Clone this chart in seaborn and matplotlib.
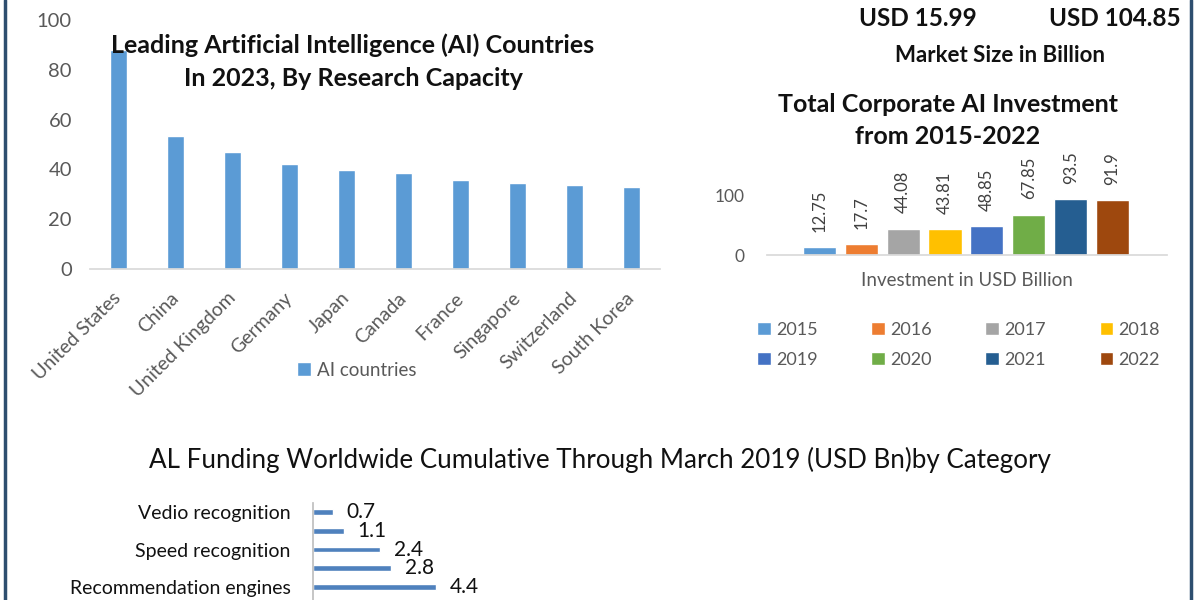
import matplotlib
matplotlib.use("Agg")
import matplotlib.pyplot as plt
from matplotlib.lines import Line2D
import seaborn as sns

# ---- data ----
countries = ["United States", "China", "United Kingdom", "Germany", "Japan",
             "Canada", "France", "Singapore", "Switzerland", "South Korea"]
capacity = [88, 53.5, 47, 42, 39.7, 38.5, 35.8, 34.6, 33.6, 33]

years = ["2015", "2016", "2017", "2018", "2019", "2020", "2021", "2022"]
investment = [12.75, 17.7, 44.08, 43.81, 48.85, 67.85, 93.5, 91.9]
year_colors = ["#5B9BD5", "#ED7D31", "#A5A5A5", "#FFC000",
               "#4472C4", "#70AD47", "#255E91", "#9E480E"]

market_start = "USD 15.99"
market_end = "USD 104.85"

funding_cats = ["Vedio recognition", "Category 2", "Speed recognition",
                "Category 4", "Recommendation engines"]
funding_labels = ["Vedio recognition", "", "Speed recognition", "",
                  "Recommendation engines"]
funding = [0.7, 1.1, 2.4, 2.8, 4.4]

# ---- style ----
sns.set_theme(style="white")
plt.rcParams['font.family'] = ['Lato', 'DejaVu Sans']
GRAY = "#595959"
DARK = "#111111"

W, H = 1200, 600
fig = plt.figure(figsize=(12, 6), dpi=100)
fig.patch.set_facecolor("white")


def box(l, t, r, b):
    # pixel box -> figure fraction [left, bottom, width, height]
    return [l / W, 1 - b / H, (r - l) / W, (b - t) / H]


def fy(y):
    return 1 - y / H


# ==========================================
# Panel 1: research capacity
# ==========================================
ax1 = fig.add_axes(box(90, 20, 660, 269))
sns.barplot(x=countries, y=capacity, color="#5B9BD5", width=0.3,
            errorbar=None, saturation=1, ax=ax1)
ax1.set_ylim(0, 100)
ax1.set_xlim(-0.5, 9.5)
ax1.set_yticks(range(0, 101, 20))
for s in ["top", "right", "left"]:
    ax1.spines[s].set_visible(False)
ax1.spines["bottom"].set_color("#D9D9D9")
ax1.tick_params(axis="y", length=0, pad=13, labelsize=14.5, labelcolor=GRAY)
ax1.tick_params(axis="x", length=0, pad=19, labelsize=14, labelcolor=GRAY)
plt.setp(ax1.get_xticklabels(), rotation=45, ha="right", va="center",
         rotation_mode="anchor")
ax1.set_xlabel("")
ax1.set_ylabel("")
ax1.legend(handles=[ax1.containers[0]], labels=["AI countries"],
           loc="center", bbox_to_anchor=(357 / W, fy(370)),
           bbox_transform=fig.transFigure, frameon=False, fontsize=13.5,
           labelcolor=GRAY, handlelength=0.7, handleheight=0.7,
           handletextpad=0.35)
fig.text(353 / W, fy(45), "Leading Artificial Intelligence (AI) Countries",
         ha="center", va="center", fontsize=18, fontweight="bold", color=DARK)
fig.text(353 / W, fy(78), "In 2023, By Research Capacity",
         ha="center", va="center", fontsize=18, fontweight="bold", color=DARK)

# ==========================================
# Panel 2: corporate investment
# ==========================================
fig.text(918 / W, fy(18), market_start, ha="center", va="center",
         fontsize=17.5, fontweight="bold", color=DARK)
fig.text(1115 / W, fy(18), market_end, ha="center", va="center",
         fontsize=17.5, fontweight="bold", color=DARK)
fig.text(1000 / W, fy(56), "Market Size in Billion", ha="center", va="center",
         fontsize=16, fontweight="bold", color=DARK)
fig.text(948 / W, fy(105), "Total Corporate AI Investment", ha="center",
         va="center", fontsize=18, fontweight="bold", color=DARK)
fig.text(948 / W, fy(137), "from 2015-2022", ha="center", va="center",
         fontsize=18, fontweight="bold", color=DARK)

ax2 = fig.add_axes(box(767, 195.4, 1167, 255))
sns.barplot(x=years, y=investment, hue=years, palette=year_colors,
            width=0.79, dodge=False, errorbar=None, saturation=1,
            legend=False, ax=ax2)
ax2.set_ylim(0, 100)
ax2.set_xlim(-1.25, 8.3)
ax2.set_yticks([0, 100])
ax2.set_xticks([])
for s in ["top", "right", "left"]:
    ax2.spines[s].set_visible(False)
ax2.spines["bottom"].set_color("#D9D9D9")
ax2.tick_params(axis="y", length=0, pad=16, labelsize=12.5, labelcolor=GRAY)
ax2.set_ylabel("")
ax2.set_xlabel("Investment in USD Billion", fontsize=13.5, color=GRAY,
               labelpad=12)
for cont, v in zip(ax2.containers, investment):
    ax2.bar_label(cont, labels=[f"{v:g}"], rotation=90, padding=11,
                  fontsize=12, color="#404040")

# legend filled row by row (matplotlib fills columns first)
order = [0, 4, 1, 5, 2, 6, 3, 7]
ax2.legend(handles=[ax2.containers[i] for i in order],
           labels=[years[i] for i in order], ncol=4, mode="expand",
           loc="upper left",
           bbox_to_anchor=(757 / W, fy(382), (1160 - 757) / W, 60 / H),
           bbox_transform=fig.transFigure, frameon=False, fontsize=13,
           labelcolor=GRAY, handlelength=0.75, handleheight=0.75,
           handletextpad=0.3, labelspacing=0.75, borderaxespad=0,
           borderpad=0)

# ==========================================
# Panel 3: funding by category
# ==========================================
fig.text(600 / W, fy(460),
         "AL Funding Worldwide Cumulative Through March 2019 (USD Bn)by Category",
         ha="center", va="center", fontsize=18.7, color=DARK)

ax3 = fig.add_axes(box(313, 503, 1100, 600))
sns.barplot(x=funding, y=funding_cats, orient="h", color="#4F81BD",
            width=0.3, errorbar=None, saturation=1, ax=ax3)
ax3.set_ylim(4.69, -0.48)
ax3.set_xlim(0, 787 / 28)
ax3.set_xticks([])
ax3.set_yticks(range(len(funding_cats)))
ax3.set_yticklabels(funding_labels)
for s in ["top", "right", "bottom"]:
    ax3.spines[s].set_visible(False)
ax3.spines["left"].set_color("#BFBFBF")
ax3.tick_params(axis="y", length=0, pad=16, labelsize=14, labelcolor=DARK)
ax3.set_xlabel("")
ax3.set_ylabel("")
for cont in ax3.containers:
    ax3.bar_label(cont, labels=[f"{v:g}" for v in funding], padding=10,
                  fontsize=15, color=DARK)

# frame lines at the left and right edges
fig.add_artist(Line2D([5 / W, 5 / W], [0, 1], color="#2E4E6F", lw=2.5))
fig.add_artist(Line2D([1191 / W, 1191 / W], [0, 1], color="#2E4E6F", lw=2.5))

fig.savefig("out.png", dpi=100, facecolor="white")
